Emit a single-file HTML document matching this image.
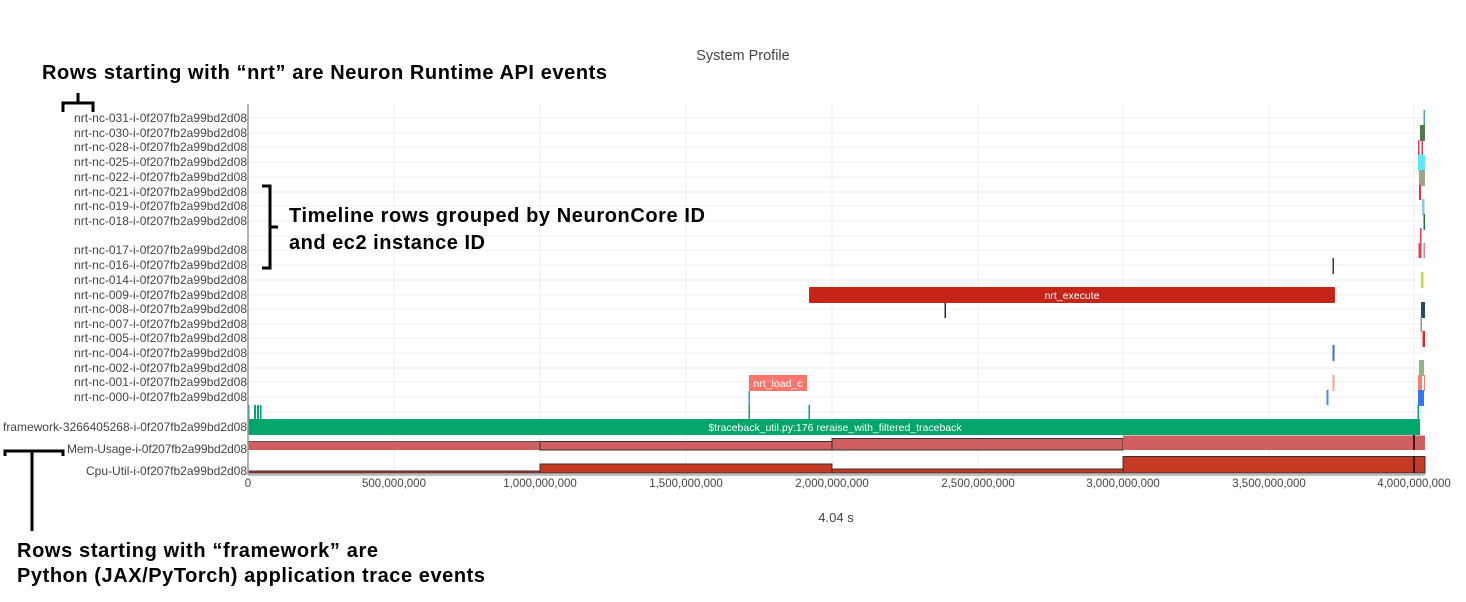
<!DOCTYPE html>
<html><head><meta charset="utf-8"><style>
html,body{margin:0;padding:0;background:#fff;}
svg{display:block;}
.lb{font-family:"Liberation Sans",Verdana,sans-serif;font-size:12px;fill:#444;}
.tk{font-family:"Liberation Sans",Verdana,sans-serif;font-size:11.5px;fill:#444;}
.an{font-family:"Liberation Sans",sans-serif;font-size:20px;font-weight:bold;fill:#000;}
</style></head><body>
<svg width="1466" height="602" xmlns="http://www.w3.org/2000/svg">
<rect width="1466" height="602" fill="#fff"/>
<text x="743" y="60" text-anchor="middle" font-family="Liberation Sans,sans-serif" font-size="14.5" fill="#444">System Profile</text>
<g stroke="#eee" stroke-width="1">
<line x1="394" y1="104" x2="394" y2="475"/><line x1="540" y1="104" x2="540" y2="475"/>
<line x1="686" y1="104" x2="686" y2="475"/><line x1="832" y1="104" x2="832" y2="475"/>
<line x1="978" y1="104" x2="978" y2="475"/><line x1="1123" y1="104" x2="1123" y2="475"/>
<line x1="1269" y1="104" x2="1269" y2="475"/><line x1="1414" y1="104" x2="1414" y2="475"/>
</g>
<g stroke="#eee" stroke-width="1">
<line x1="248" x2="1425" y1="118" y2="118"/><line x1="248" x2="1425" y1="133" y2="133"/>
<line x1="248" x2="1425" y1="147" y2="147"/><line x1="248" x2="1425" y1="162" y2="162"/>
<line x1="248" x2="1425" y1="177" y2="177"/><line x1="248" x2="1425" y1="192" y2="192"/>
<line x1="248" x2="1425" y1="206" y2="206"/><line x1="248" x2="1425" y1="221" y2="221"/>
<line x1="248" x2="1425" y1="236" y2="236"/><line x1="248" x2="1425" y1="250" y2="250"/>
<line x1="248" x2="1425" y1="265" y2="265"/><line x1="248" x2="1425" y1="280" y2="280"/>
<line x1="248" x2="1425" y1="295" y2="295"/><line x1="248" x2="1425" y1="309" y2="309"/>
<line x1="248" x2="1425" y1="324" y2="324"/><line x1="248" x2="1425" y1="338" y2="338"/>
<line x1="248" x2="1425" y1="353" y2="353"/><line x1="248" x2="1425" y1="368" y2="368"/>
<line x1="248" x2="1425" y1="382" y2="382"/><line x1="248" x2="1425" y1="397" y2="397"/>
<line x1="248" x2="1425" y1="412" y2="412"/>
</g>
<g class="lb" text-anchor="end">
<text x="247" y="122" textLength="173">nrt-nc-031-i-0f207fb2a99bd2d08</text>
<text x="247" y="137" textLength="173">nrt-nc-030-i-0f207fb2a99bd2d08</text>
<text x="247" y="151" textLength="173">nrt-nc-028-i-0f207fb2a99bd2d08</text>
<text x="247" y="166" textLength="173">nrt-nc-025-i-0f207fb2a99bd2d08</text>
<text x="247" y="181" textLength="173">nrt-nc-022-i-0f207fb2a99bd2d08</text>
<text x="247" y="196" textLength="173">nrt-nc-021-i-0f207fb2a99bd2d08</text>
<text x="247" y="210" textLength="173">nrt-nc-019-i-0f207fb2a99bd2d08</text>
<text x="247" y="225" textLength="173">nrt-nc-018-i-0f207fb2a99bd2d08</text>
<text x="247" y="254" textLength="173">nrt-nc-017-i-0f207fb2a99bd2d08</text>
<text x="247" y="269" textLength="173">nrt-nc-016-i-0f207fb2a99bd2d08</text>
<text x="247" y="284" textLength="173">nrt-nc-014-i-0f207fb2a99bd2d08</text>
<text x="247" y="299" textLength="173">nrt-nc-009-i-0f207fb2a99bd2d08</text>
<text x="247" y="313" textLength="173">nrt-nc-008-i-0f207fb2a99bd2d08</text>
<text x="247" y="328" textLength="173">nrt-nc-007-i-0f207fb2a99bd2d08</text>
<text x="247" y="342" textLength="173">nrt-nc-005-i-0f207fb2a99bd2d08</text>
<text x="247" y="357" textLength="173">nrt-nc-004-i-0f207fb2a99bd2d08</text>
<text x="247" y="372" textLength="173">nrt-nc-002-i-0f207fb2a99bd2d08</text>
<text x="247" y="386" textLength="173">nrt-nc-001-i-0f207fb2a99bd2d08</text>
<text x="247" y="401" textLength="173">nrt-nc-000-i-0f207fb2a99bd2d08</text>
<text x="247" y="431" textLength="244">framework-3266405268-i-0f207fb2a99bd2d08</text>
<text x="247" y="453" textLength="180">Mem-Usage-i-0f207fb2a99bd2d08</text>
<text x="247" y="475" textLength="161">Cpu-Util-i-0f207fb2a99bd2d08</text>
</g>
<g fill="#03a66a">
<rect x="248" y="419" width="1172" height="16"/>
<rect x="248" y="405" width="1.5" height="14"/><rect x="254" y="405" width="2" height="14"/>
<rect x="257" y="405" width="2" height="14"/><rect x="260" y="405" width="1.5" height="14"/>
<rect x="808.5" y="405" width="1.5" height="14"/><rect x="748.5" y="405" width="1.5" height="14"/>
<rect x="1417.5" y="405" width="1.5" height="14"/>
</g>
<rect x="748.5" y="391" width="1.5" height="14" fill="#3d8cf0"/>
<text x="835" y="431" text-anchor="middle" font-family="Liberation Sans,sans-serif" font-size="10.5" fill="#fff">$traceback_util.py:176 reraise_with_filtered_traceback</text>
<rect x="809" y="287" width="526" height="16" fill="#c62418" rx="1"/>
<text x="1072" y="299" text-anchor="middle" font-family="Liberation Sans,sans-serif" font-size="10.5" fill="#fff">nrt_execute</text>
<rect x="749" y="375" width="58" height="16" fill="#f8776a"/>
<text x="778" y="387" text-anchor="middle" font-family="Liberation Sans,sans-serif" font-size="10.5" fill="#fff">nrt_load_c</text>
<rect x="944.5" y="303" width="1.5" height="15" fill="#1a2f4f"/>
<rect x="1332.5" y="258" width="1.5" height="16" fill="#2a3a60"/>
<rect x="1332.5" y="345" width="2" height="16" fill="#3b6ed8"/>
<rect x="1332.5" y="375" width="2" height="16" fill="#f4a090"/>
<rect x="1326.5" y="390" width="2" height="15" fill="#3d8cf0"/>
<rect x="1423.5" y="110" width="1.5" height="15" fill="#4aa8a8"/>
<rect x="1420" y="125" width="5" height="16" fill="#4f7a4a"/>
<rect x="1418" y="140" width="1.5" height="16" fill="#e0405a"/><rect x="1421.5" y="140" width="1.5" height="16" fill="#e0405a"/>
<rect x="1418" y="155" width="7" height="16" fill="#5de8f8"/>
<rect x="1419" y="170" width="6" height="16" fill="#9aa888"/>
<rect x="1419" y="185" width="2" height="15" fill="#f03030"/>
<rect x="1422" y="199" width="2.5" height="16" fill="#8fc8e8"/>
<rect x="1423.5" y="214" width="1.5" height="16" fill="#1a7a3a"/>
<rect x="1420" y="228" width="1.5" height="16" fill="#e04050"/>
<rect x="1418.5" y="243" width="3" height="15" fill="#e04050"/><rect x="1423.5" y="243" width="1.5" height="15" fill="#e88090"/>
<rect x="1421" y="272" width="2.5" height="16" fill="#c0e040"/>
<rect x="1421" y="302" width="4" height="16" fill="#1f4a6a"/>
<rect x="1420.5" y="316" width="1.5" height="16" fill="#8a9a70"/>
<rect x="1422.5" y="331" width="2.5" height="16" fill="#f02020"/>
<rect x="1419" y="360" width="5" height="16" fill="#8ab880"/>
<rect x="1418" y="375" width="4" height="16" fill="#f88070"/><rect x="1424" y="375" width="1" height="16" fill="#f88070"/>
<rect x="1418" y="390" width="6" height="16" fill="#2f7af0"/>
<g fill="#d05f5f" stroke="#333" stroke-width="1">
<rect x="248" y="441.5" width="292" height="8.5" stroke="none"/>
<rect x="540" y="441.5" width="292" height="8.5"/>
<rect x="832" y="438.5" width="291" height="11.5"/>
<rect x="1123" y="435.5" width="302" height="14.5" stroke="none"/>
</g>
<rect x="248" y="441" width="292" height="1" fill="#555"/>
<rect x="1413" y="435" width="2" height="15" fill="#3a1a1a"/>
<g fill="#c43a22" stroke="#333" stroke-width="1">
<rect x="248" y="471" width="292" height="2"/>
<rect x="540" y="464" width="292" height="9"/>
<rect x="832" y="469" width="291" height="4"/>
<rect x="1123" y="456.5" width="302" height="16.5"/>
</g>
<rect x="1413" y="456" width="2" height="17" fill="#3a1a1a"/>
<line x1="248" y1="104" x2="248" y2="475" stroke="#999" stroke-width="1.5"/>
<line x1="248" y1="475" x2="1425" y2="475" stroke="#aaa" stroke-width="1.5"/>
<g class="tk" text-anchor="middle">
<text x="248" y="487">0</text><text x="394" y="487">500,000,000</text>
<text x="540" y="487">1,000,000,000</text><text x="686" y="487">1,500,000,000</text>
<text x="832" y="487">2,000,000,000</text><text x="978" y="487">2,500,000,000</text>
<text x="1123" y="487">3,000,000,000</text><text x="1269" y="487">3,500,000,000</text>
<text x="1414" y="487">4,000,000,000</text>
</g>
<text x="836" y="522" text-anchor="middle" font-family="Liberation Sans,sans-serif" font-size="13" fill="#444">4.04 s</text>
<text class="an" x="42" y="79" textLength="565">Rows starting with “nrt” are Neuron Runtime API events</text>
<path d="M63,112 V103 H93 V112 M78,103 V93" fill="none" stroke="#000" stroke-width="3"/>
<path d="M262,186 H270 V268 H262 M270,227 H278" fill="none" stroke="#000" stroke-width="3"/>
<text class="an" x="289" y="222" textLength="416">Timeline rows grouped by NeuronCore ID</text>
<text class="an" x="289" y="249" textLength="196">and ec2 instance ID</text>
<path d="M5,456 V451 H63 V456 M32,451 V531" fill="none" stroke="#000" stroke-width="3"/>
<text class="an" x="17" y="557" textLength="361">Rows starting with “framework” are</text>
<text class="an" x="17" y="582" textLength="468">Python (JAX/PyTorch) application trace events</text>
</svg>
</body></html>
